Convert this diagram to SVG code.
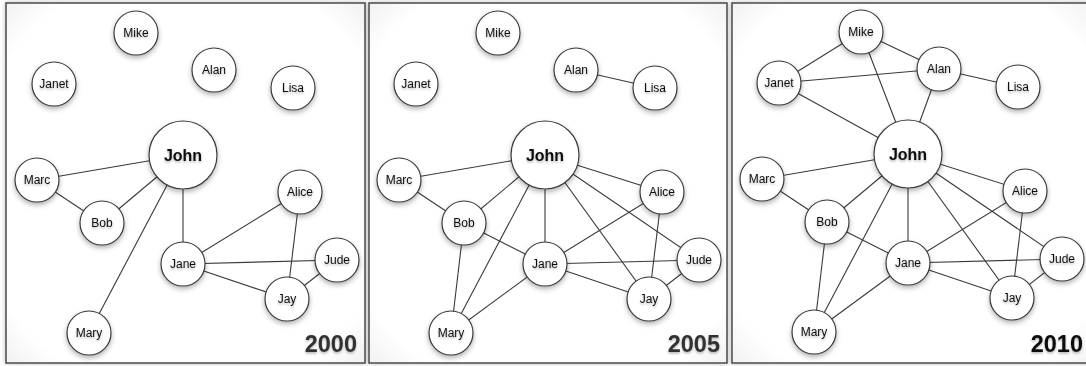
<svg xmlns="http://www.w3.org/2000/svg" width="1086" height="366" viewBox="0 0 1086 366">
<defs>
<filter id="panelShadow" x="-5%" y="-5%" width="110%" height="110%"><feDropShadow dx="0" dy="0" stdDeviation="2.5" flood-color="#000" flood-opacity="0.25"/></filter>
<filter id="nodeShadow" x="-40%" y="-40%" width="180%" height="190%"><feDropShadow dx="0" dy="2.5" stdDeviation="2.5" flood-color="#000" flood-opacity="0.3"/></filter>
<filter id="textShadow" x="-20%" y="-40%" width="140%" height="200%"><feDropShadow dx="0" dy="1.5" stdDeviation="1.2" flood-color="#000" flood-opacity="0.3"/></filter>
<radialGradient id="panelFill" cx="50%" cy="50%" r="75%"><stop offset="80%" stop-color="#ffffff"/><stop offset="100%" stop-color="#ececec"/></radialGradient>
</defs>
<style>
.panel{fill:url(#panelFill);stroke:#4a4a4a;stroke-width:1.5;filter:url(#panelShadow)}
.edges line{stroke:#3a3a3a;stroke-width:1.1}
.node circle{fill:#ffffff;stroke:#3a3a3a;stroke-width:1.2;filter:url(#nodeShadow)}
.node text{font-family:"Liberation Sans",Arial,sans-serif;font-size:12px;fill:#111;text-anchor:middle;filter:url(#textShadow)}
.node.hub text{font-size:16px;font-weight:bold}
.year{font-family:"Liberation Sans",Arial,sans-serif;font-size:23.5px;font-weight:bold;fill:#333;text-anchor:end;filter:url(#textShadow)}
.year.dark{fill:#111}
</style>
<rect width="1086" height="366" fill="#ffffff"/>

<!-- Panel 2000 -->
<g id="panel-2000">
<rect class="panel" x="6" y="3" width="359" height="360"/>
<g id="edges-2000" class="edges">
<line x1="37" y1="180" x2="183" y2="155"/>
<line x1="37" y1="180" x2="102" y2="223"/>
<line x1="102" y1="223" x2="183" y2="155"/>
<line x1="183" y1="155" x2="89" y2="333"/>
<line x1="183" y1="155" x2="183" y2="264"/>
<line x1="183" y1="264" x2="300" y2="192"/>
<line x1="183" y1="264" x2="337" y2="260"/>
<line x1="183" y1="264" x2="287" y2="299"/>
<line x1="300" y1="192" x2="287" y2="299"/>
<line x1="337" y1="260" x2="287" y2="299"/>
</g>
<g id="n2000-mike" class="node"><circle cx="136" cy="33" r="22"/><text x="136" y="37">Mike</text></g>
<g id="n2000-janet" class="node"><circle cx="54" cy="84" r="22"/><text x="54" y="88">Janet</text></g>
<g id="n2000-alan" class="node"><circle cx="214" cy="70" r="22"/><text x="214" y="74">Alan</text></g>
<g id="n2000-lisa" class="node"><circle cx="293" cy="88" r="22"/><text x="293" y="92">Lisa</text></g>
<g id="n2000-john" class="node hub"><circle cx="183" cy="155" r="34"/><text x="183" y="161">John</text></g>
<g id="n2000-marc" class="node"><circle cx="37" cy="180" r="22"/><text x="37" y="184">Marc</text></g>
<g id="n2000-bob" class="node"><circle cx="102" cy="223" r="22"/><text x="102" y="227">Bob</text></g>
<g id="n2000-alice" class="node"><circle cx="300" cy="192" r="22"/><text x="300" y="196">Alice</text></g>
<g id="n2000-jane" class="node"><circle cx="183" cy="264" r="22"/><text x="183" y="268">Jane</text></g>
<g id="n2000-jude" class="node"><circle cx="337" cy="260" r="22"/><text x="337" y="264">Jude</text></g>
<g id="n2000-jay" class="node"><circle cx="287" cy="299" r="22"/><text x="287" y="303">Jay</text></g>
<g id="n2000-mary" class="node"><circle cx="89" cy="333" r="22"/><text x="89" y="337">Mary</text></g>
<text class="year" x="357" y="352">2000</text>
</g>

<!-- Panel 2005 -->
<g id="panel-2005" transform="translate(362,0)">
<rect class="panel" x="7" y="3" width="358" height="360"/>
<g id="edges-2005" class="edges">
<line x1="37" y1="180" x2="183" y2="155"/>
<line x1="37" y1="180" x2="102" y2="223"/>
<line x1="102" y1="223" x2="183" y2="155"/>
<line x1="183" y1="155" x2="89" y2="333"/>
<line x1="183" y1="155" x2="183" y2="264"/>
<line x1="183" y1="264" x2="300" y2="192"/>
<line x1="183" y1="264" x2="337" y2="260"/>
<line x1="183" y1="264" x2="287" y2="299"/>
<line x1="300" y1="192" x2="287" y2="299"/>
<line x1="337" y1="260" x2="287" y2="299"/>
<line x1="214" y1="70" x2="293" y2="88"/>
<line x1="183" y1="155" x2="300" y2="192"/>
<line x1="183" y1="155" x2="337" y2="260"/>
<line x1="183" y1="155" x2="287" y2="299"/>
<line x1="102" y1="223" x2="183" y2="264"/>
<line x1="102" y1="223" x2="89" y2="333"/>
<line x1="183" y1="264" x2="89" y2="333"/>
</g>
<g id="n2005-mike" class="node"><circle cx="136" cy="33" r="22"/><text x="136" y="37">Mike</text></g>
<g id="n2005-janet" class="node"><circle cx="54" cy="84" r="22"/><text x="54" y="88">Janet</text></g>
<g id="n2005-alan" class="node"><circle cx="214" cy="70" r="22"/><text x="214" y="74">Alan</text></g>
<g id="n2005-lisa" class="node"><circle cx="293" cy="88" r="22"/><text x="293" y="92">Lisa</text></g>
<g id="n2005-john" class="node hub"><circle cx="183" cy="155" r="34"/><text x="183" y="161">John</text></g>
<g id="n2005-marc" class="node"><circle cx="37" cy="180" r="22"/><text x="37" y="184">Marc</text></g>
<g id="n2005-bob" class="node"><circle cx="102" cy="223" r="22"/><text x="102" y="227">Bob</text></g>
<g id="n2005-alice" class="node"><circle cx="300" cy="192" r="22"/><text x="300" y="196">Alice</text></g>
<g id="n2005-jane" class="node"><circle cx="183" cy="264" r="22"/><text x="183" y="268">Jane</text></g>
<g id="n2005-jude" class="node"><circle cx="337" cy="260" r="22"/><text x="337" y="264">Jude</text></g>
<g id="n2005-jay" class="node"><circle cx="287" cy="299" r="22"/><text x="287" y="303">Jay</text></g>
<g id="n2005-mary" class="node"><circle cx="89" cy="333" r="22"/><text x="89" y="337">Mary</text></g>
<text class="year" x="358" y="352">2005</text>
</g>

<!-- Panel 2010 -->
<g id="panel-2010" transform="translate(725,-1)">
<rect class="panel" x="7" y="4" width="362" height="360"/>
<g id="edges-2010" class="edges">
<line x1="37" y1="180" x2="183" y2="155"/>
<line x1="37" y1="180" x2="102" y2="223"/>
<line x1="102" y1="223" x2="183" y2="155"/>
<line x1="183" y1="155" x2="89" y2="333"/>
<line x1="183" y1="155" x2="183" y2="264"/>
<line x1="183" y1="264" x2="300" y2="192"/>
<line x1="183" y1="264" x2="337" y2="260"/>
<line x1="183" y1="264" x2="287" y2="299"/>
<line x1="300" y1="192" x2="287" y2="299"/>
<line x1="337" y1="260" x2="287" y2="299"/>
<line x1="214" y1="70" x2="293" y2="88"/>
<line x1="183" y1="155" x2="300" y2="192"/>
<line x1="183" y1="155" x2="337" y2="260"/>
<line x1="183" y1="155" x2="287" y2="299"/>
<line x1="102" y1="223" x2="183" y2="264"/>
<line x1="102" y1="223" x2="89" y2="333"/>
<line x1="183" y1="264" x2="89" y2="333"/>
<line x1="136" y1="33" x2="54" y2="84"/>
<line x1="136" y1="33" x2="214" y2="70"/>
<line x1="136" y1="33" x2="183" y2="155"/>
<line x1="54" y1="84" x2="214" y2="70"/>
<line x1="54" y1="84" x2="183" y2="155"/>
<line x1="214" y1="70" x2="183" y2="155"/>
</g>
<g id="n2010-mike" class="node"><circle cx="136" cy="33" r="22"/><text x="136" y="37">Mike</text></g>
<g id="n2010-janet" class="node"><circle cx="54" cy="84" r="22"/><text x="54" y="88">Janet</text></g>
<g id="n2010-alan" class="node"><circle cx="214" cy="70" r="22"/><text x="214" y="74">Alan</text></g>
<g id="n2010-lisa" class="node"><circle cx="293" cy="88" r="22"/><text x="293" y="92">Lisa</text></g>
<g id="n2010-john" class="node hub"><circle cx="183" cy="155" r="34"/><text x="183" y="161">John</text></g>
<g id="n2010-marc" class="node"><circle cx="37" cy="180" r="22"/><text x="37" y="184">Marc</text></g>
<g id="n2010-bob" class="node"><circle cx="102" cy="223" r="22"/><text x="102" y="227">Bob</text></g>
<g id="n2010-alice" class="node"><circle cx="300" cy="192" r="22"/><text x="300" y="196">Alice</text></g>
<g id="n2010-jane" class="node"><circle cx="183" cy="264" r="22"/><text x="183" y="268">Jane</text></g>
<g id="n2010-jude" class="node"><circle cx="337" cy="260" r="22"/><text x="337" y="264">Jude</text></g>
<g id="n2010-jay" class="node"><circle cx="287" cy="299" r="22"/><text x="287" y="303">Jay</text></g>
<g id="n2010-mary" class="node"><circle cx="89" cy="333" r="22"/><text x="89" y="337">Mary</text></g>
<text class="year dark" x="358" y="353">2010</text>
</g>
</svg>
